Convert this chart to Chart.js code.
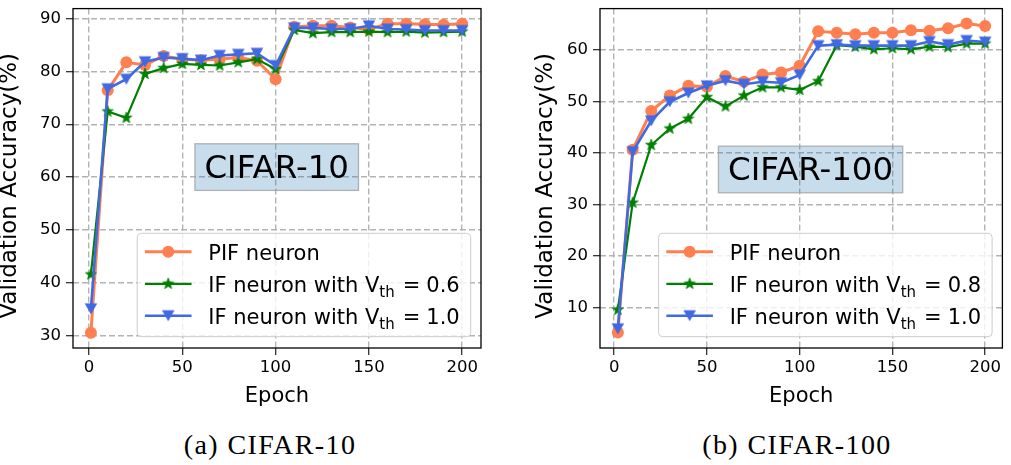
<!DOCTYPE html>
<html><head><meta charset="utf-8">
<script src="https://cdn.jsdelivr.net/npm/chart.js@4.4.0/dist/chart.umd.min.js"></script>
<style>
html,body{margin:0;padding:0;background:#fff;width:1011px;height:465px;overflow:hidden;}
.wrap{position:absolute;top:0;}
.cap{position:absolute;font-family:"Liberation Serif","Times New Roman",serif;font-size:28px;line-height:28px;letter-spacing:1.4px;color:#000;white-space:nowrap;transform:translateX(-50%);}
</style></head><body>
<div class="wrap" style="left:0px;width:500px;height:420px"><canvas id="c1" width="500" height="420"></canvas></div>
<div class="wrap" style="left:527px;width:484px;height:420px"><canvas id="c2" width="484" height="420"></canvas></div>
<div class="cap" id="capA" style="left:270px;top:431px"></div>
<div class="cap" id="capB" style="left:797px;top:431px"></div>
<script>
// ---------- data ----------
const epochs10  = [1,10,20,30,40,50,60,70,80,90,100,110,120,130,140,150,160,170,180,190,200];
const pif10     = [30.6,76.4,81.7,81.2,82.9,82.3,82.1,82.3,82.6,82.0,78.5,88.4,88.6,88.6,88.3,87.9,89.0,89.0,88.9,88.8,89.0];
const if10_06   = [41.6,72.4,71.2,79.5,80.6,81.4,81.2,81.1,81.7,82.3,80.4,87.8,87.2,87.4,87.4,87.5,87.4,87.5,87.3,87.4,87.5];
const if10_10   = [35.1,76.7,78.5,81.8,82.6,82.4,82.1,83.0,83.2,83.4,81.1,88.2,88.2,88.0,88.0,88.6,88.0,87.9,87.7,87.7,87.7];

const epochs100 = [2,10,20,30,40,50,60,70,80,90,100,110,120,130,140,150,160,170,180,190,200];
const pif100    = [5.1,40.6,48.1,51.1,53.0,52.8,54.9,53.8,55.2,55.6,56.9,63.6,63.3,63.0,63.3,63.3,63.8,63.7,64.2,65.1,64.6];
const if100_08  = [9.5,30.3,41.5,44.7,46.6,50.8,49.0,51.1,52.7,52.7,52.2,53.9,60.9,60.6,60.1,60.3,60.1,60.6,60.5,61.2,61.2];
const if100_10  = [5.8,40.2,46.2,49.9,51.6,53.0,54.0,53.3,53.8,53.6,55.1,60.8,61.0,60.8,60.8,60.8,60.8,61.6,61.0,61.8,61.5];

const xTicks    = [0,50,100,150,200];
const yTicks10  = [30,40,50,60,70,80,90];
const yTicks100 = [10,20,30,40,50,60];
const xLabel = 'Epoch';
const yLabel = 'Validation Accuracy(%)';
const pifName = 'PIF neuron';
const ifName = 'IF neuron with V';
const vthSub = 'th';
const vth10 = ['0.6','1.0'];
const vth100 = ['0.8','1.0'];
const panelNames = ['CIFAR-10','CIFAR-100'];
const captions = ['(a) CIFAR-10','(b) CIFAR-100'];

// ---------- style ----------
const ORANGE='#FF7F50', GREEN='#008000', BLUE='#4169E1';
const FONT='"DejaVu Sans", sans-serif';

function starImg(color){
  const c=document.createElement('canvas'); c.width=16; c.height=16;
  const g=c.getContext('2d'); g.translate(8,8); g.fillStyle=color; g.strokeStyle=color; g.lineWidth=0.8;
  g.beginPath();
  for(let i=0;i<10;i++){const r=i%2?2.4:5.8;const a=-Math.PI/2+i*Math.PI/5;g.lineTo(r*Math.cos(a),r*Math.sin(a));}
  g.closePath(); g.fill(); g.stroke(); return c;
}
function triImg(color){
  const c=document.createElement('canvas'); c.width=16; c.height=16;
  const g=c.getContext('2d'); g.translate(8,8); g.fillStyle=color;
  g.beginPath(); g.moveTo(-6.3,-5.6); g.lineTo(6.3,-5.6); g.lineTo(0,5.6); g.closePath(); g.fill(); return c;
}
const STAR=starImg(GREEN), TRI=triImg(BLUE);

function pts(xs,ys){return xs.map((x,i)=>({x:x,y:ys[i]}));}

function datasets(xs,a,b,c){
  return [
    {data:pts(xs,a),borderColor:ORANGE,backgroundColor:ORANGE,borderWidth:3,pointStyle:'circle',pointRadius:6,
     pointBackgroundColor:ORANGE,pointBorderColor:ORANGE,pointBorderWidth:0,order:3,tension:0},
    {data:pts(xs,b),borderColor:GREEN,backgroundColor:GREEN,borderWidth:2.2,pointStyle:STAR,pointRadius:6,order:2,tension:0},
    {data:pts(xs,c),borderColor:BLUE,backgroundColor:BLUE,borderWidth:2.6,pointStyle:TRI,pointRadius:6,order:1,tension:0}
  ];
}

const framePlugin={id:'frame',afterDatasetsDraw(chart){
  const ctx=chart.ctx,a=chart.chartArea;ctx.save();ctx.strokeStyle='#000';ctx.lineWidth=1.3;
  ctx.strokeRect(a.left,a.top,a.right-a.left,a.bottom-a.top);ctx.restore();}};

function yTitlePlugin(cx){return {id:'ytitle',afterDraw(chart){
  const ctx=chart.ctx,a=chart.chartArea;ctx.save();
  ctx.font='23px '+FONT;ctx.fillStyle='#000';ctx.textAlign='center';ctx.textBaseline='middle';
  ctx.translate(cx,(a.top+a.bottom)/2+7.5);ctx.rotate(-Math.PI/2);ctx.fillText(yLabel,0,0);ctx.restore();}};}

function boxPlugin(text,fx,fy){return {id:'panelbox',beforeDatasetsDraw(chart){
  const ctx=chart.ctx,a=chart.chartArea;ctx.save();
  ctx.font='32.5px '+FONT;const tw=ctx.measureText(text).width;
  const w=tw+19,h=46.6;const cx=a.left+fx*(a.right-a.left),cy=a.top+fy*(a.bottom-a.top);
  ctx.fillStyle='rgba(31,119,180,0.25)';ctx.fillRect(cx-w/2,cy-h/2,w,h);
  ctx.strokeStyle='rgba(160,160,160,0.8)';ctx.lineWidth=1.3;ctx.strokeRect(cx-w/2,cy-h/2,w,h);
  ctx.fillStyle='#000';ctx.textAlign='center';ctx.textBaseline='alphabetic';ctx.fillText(text,cx,cy+11);
  ctx.restore();}};}

function legendPlugin(vals){return {id:'mpllegend',afterDraw(chart){
  const ctx=chart.ctx,a=chart.chartArea;ctx.save();
  const F='21px '+FONT, FS='15px '+FONT;
  const rows=[{c:ORANGE,m:'circle',t:pifName},{c:GREEN,m:STAR,t:ifName,v:vals[0]},{c:BLUE,m:TRI,t:ifName,v:vals[1]}];
  function parts(r){
    ctx.font=F;const w1=ctx.measureText(r.t).width;
    if(!r.v)return {w:w1};
    ctx.font=FS;const ws=ctx.measureText(vthSub).width;
    ctx.font=F;const we=ctx.measureText('=').width,wv=ctx.measureText(r.v).width;
    return {w1:w1,ws:ws,we:we,wv:wv,w:w1+ws+8+we+6+wv};
  }
  const ps=rows.map(parts);
  const w=71+Math.max(...ps.map(p=>p.w))+11,h=103.4;
  const x0=a.right-10.3-w,y0=a.bottom-11.3-h;
  ctx.beginPath();if(ctx.roundRect)ctx.roundRect(x0,y0,w,h,4);else ctx.rect(x0,y0,w,h);
  ctx.fillStyle='rgba(255,255,255,0.8)';ctx.fill();ctx.strokeStyle='#cccccc';ctx.lineWidth=1;ctx.stroke();
  const offs=[18.4,50.5,82.4];
  rows.forEach((r,i)=>{
    const y=y0+offs[i];
    ctx.strokeStyle=r.c;ctx.lineWidth=i===0?3:(i===1?2.2:2.6);
    ctx.beginPath();ctx.moveTo(x0+7.7,y);ctx.lineTo(x0+54.3,y);ctx.stroke();
    const mx=x0+31;
    if(r.m==='circle'){ctx.fillStyle=r.c;ctx.beginPath();ctx.arc(mx,y,6,0,Math.PI*2);ctx.fill();}
    else ctx.drawImage(r.m,mx-8,y-8);
    ctx.fillStyle='#000';ctx.textAlign='left';ctx.textBaseline='alphabetic';
    let tx=x0+71;const by=y+8.3;
    ctx.font=F;ctx.fillText(r.t,tx,by);
    if(r.v){const p=ps[i];tx+=p.w1;ctx.font=FS;ctx.fillText(vthSub,tx,by+4.5);tx+=p.ws+8;
      ctx.font=F;ctx.fillText('=',tx,by);tx+=p.we+6;ctx.fillText(r.v,tx,by);}
  });
  ctx.restore();}};}

function makeChart(id,xs,a,b,c,xmin,xmax,ymin,ymax,yTicks,vals,panel,fx,fy,padRight,yTitleX){
  const grid={color:'#b3b3b3',lineWidth:1.4,drawTicks:true,tickLength:7,tickColor:'#222',tickWidth:1.2,tickBorderDash:[]};
  return new Chart(document.getElementById(id),{
    type:'line',
    data:{datasets:datasets(xs,a,b,c)},
    options:{responsive:false,animation:false,devicePixelRatio:1,
      layout:{padding:{top:2,right:padRight,bottom:0,left:0}},
      plugins:{legend:{display:false},tooltip:{enabled:false}},
      scales:{
        x:{type:'linear',min:xmin,max:xmax,
          afterBuildTicks:s=>{s.ticks=xTicks.map(v=>({value:v}));},
          afterFit:s=>{s.height=72;s.paddingLeft=0;s.paddingRight=0;},
          grid:grid,border:{display:false,dash:[6,3]},
          ticks:{font:{family:FONT,size:16.5},color:'#000',padding:3,maxRotation:0,autoSkip:false},
          title:{display:true,text:xLabel,font:{family:FONT,size:21},color:'#000',padding:{top:0,bottom:11}}},
        y:{type:'linear',min:ymin,max:ymax,
          afterBuildTicks:s=>{s.ticks=yTicks.map(v=>({value:v}));},
          afterFit:s=>{s.width=73;s.paddingTop=0;s.paddingBottom=0;},
          grid:grid,border:{display:false,dash:[6,3]},
          ticks:{font:{family:FONT,size:16.5},color:'#000',padding:5,autoSkip:false},
          title:{display:false}}
      }},
    plugins:[boxPlugin(panel,fx,fy),framePlugin,yTitlePlugin(yTitleX),legendPlugin(vals)]
  });
}

makeChart('c1',epochs10,pif10,if10_06,if10_10,-8.6,210.1,27.7,91.85,yTicks10,vth10,panelNames[0],0.4993,0.467,19,10);
makeChart('c2',epochs100,pif100,if100_08,if100_10,-7.62,209.3,2.08,68.0,yTicks100,vth100,panelNames[1],0.5233,0.474,4,19);
document.getElementById('capA').textContent=captions[0];
document.getElementById('capB').textContent=captions[1];
</script>
</body></html>
